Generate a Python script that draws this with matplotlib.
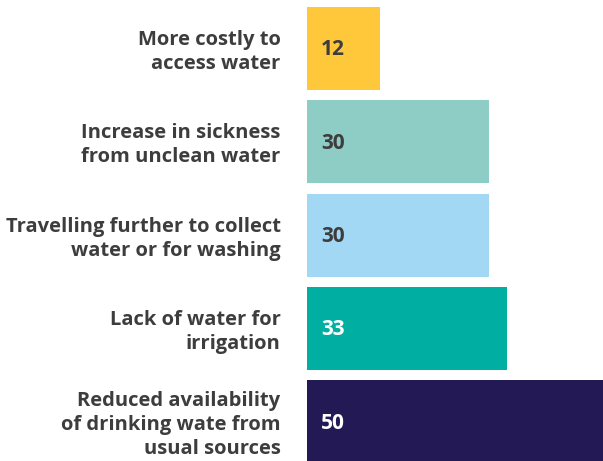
import matplotlib
matplotlib.use('Agg')
import matplotlib.pyplot as plt

# Data
labels = ['More costly to\naccess water',
          'Increase in sickness\nfrom unclean water',
          'Travelling further to collect\nwater or for washing',
          'Lack of water for\nirrigation',
          'Reduced availability\nof drinking wate from\nusual sources']
values = [12, 30, 30, 33, 50]
bar_colors = ['#FFC83A', '#8ECDC6', '#A3D8F5', '#00AFA1', '#231955']
value_colors = ['#3d3d3d', '#3d3d3d', '#3d3d3d', 'white', 'white']

text_color = '#3d3d3d'
plt.rcParams['font.family'] = ['Open Sans', 'DejaVu Sans']

fig = plt.figure(figsize=(6.03, 4.61), dpi=100)
ax = fig.add_axes([307 / 603, 0, 296 / 603, 1])

y = list(range(len(values)))
ax.barh(y, values, height=0.89, color=bar_colors)
ax.set_xlim(0, 48.9)
ax.set_ylim(4.42, -0.52)
ax.axis('off')

for i, (v, c) in enumerate(zip(values, value_colors)):
    ax.annotate(str(v), xy=(0, i), xytext=(10, -1), textcoords='offset points',
                ha='left', va='center', fontsize=15, fontweight='bold', color=c)

for i, lab in enumerate(labels):
    ax.annotate(lab, xy=(0, i), xytext=(-19, -2.5), textcoords='offset points',
                ha='right', va='center', fontsize=14.5, fontweight='bold',
                color=text_color, linespacing=1.28, multialignment='right')

fig.savefig('out.png', dpi=100)
